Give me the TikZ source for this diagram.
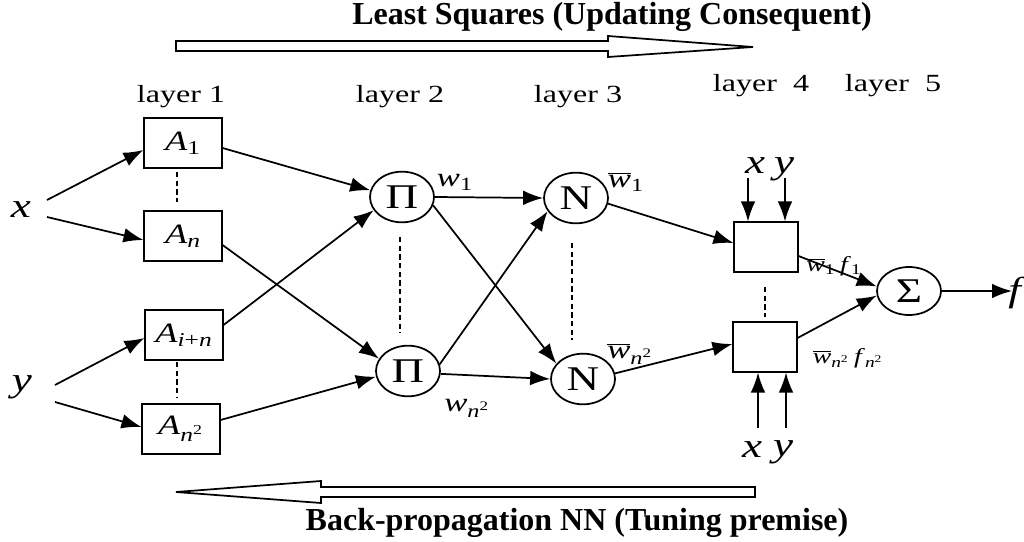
\documentclass[tikz,border=0pt]{standalone}
\usepackage{fontspec}
\usepackage{graphicx}
\setmainfont{Liberation Serif}
\usetikzlibrary{shapes.geometric,arrows.meta}
\newcommand\hs[1]{\scalebox{1.3}[1]{#1}}
\newcommand\ob{$\overline{\hbox{\textit{w}}}$}
\begin{document}
\begin{tikzpicture}[x=0.75pt,y=-0.75pt,
  ln/.style={line width=1.3pt},
  arr/.style={ln,-{Latex[length=15pt,width=11pt]}},
  dsh/.style={line width=1.3pt,dash pattern=on 4pt off 2.5pt},
  box/.style={draw,line width=1.3pt,rectangle,minimum width=58pt,minimum height=37.5pt,inner sep=0pt,font=\fontsize{21}{23}\selectfont},
  box4/.style={draw,line width=1.3pt,rectangle,minimum width=47.5pt,minimum height=37pt,inner sep=0pt},
  ell/.style={draw,line width=1.3pt,ellipse,minimum width=48pt,minimum height=38pt,inner sep=0pt,font=\fontsize{26}{28}\selectfont},
  lay/.style={font=\fontsize{18.5}{20}\selectfont,inner sep=0pt},
  ttl/.style={font=\fontsize{24}{26}\selectfont\bfseries,inner sep=0pt},
  var/.style={font=\fontsize{26}{28}\selectfont\itshape,inner sep=0pt},
  wl/.style={font=\fontsize{20}{22}\selectfont,inner sep=0pt},
  fl/.style={font=\fontsize{16}{18}\selectfont,inner sep=0pt}]
\useasboundingbox (0,0) rectangle (1024,542);
\fill[white] (0,0) rectangle (1024,542);

% titles and hollow arrows
\node[ttl] (top) at (612,17) {Least Squares (Updating Consequent)};
\draw[ln,fill=white] (176,41) -- (608,41) -- (608,36) -- (753,47) -- (608,57) -- (608,51) -- (176,51) -- cycle;
\node[ttl] (bot) at (577,523) {Back-propagation NN (Tuning premise)};
\draw[ln,fill=white] (755,487) -- (321,487) -- (321,481) -- (176,492) -- (321,503) -- (321,497) -- (755,497) -- cycle;

% layer labels
\node[lay] (l1) at (181,97) {\hs{layer 1}};
\node[lay] (l2) at (400,97) {\hs{layer 2}};
\node[lay] (l3) at (578,97) {\hs{layer 3}};
\node[lay] (l4) at (761,86) {\hs{layer\ \ 4}};
\node[lay] (l5) at (893,86) {\hs{layer\ \ 5}};

% inputs
\node[var] (x) at (21,210) {\hs{x}};
\node[var] (y) at (22,387) {\hs{y}};

% layer 1
\node[box] (A1) at (183,143) {\hs{\textit{A}\textsubscript{1}}};
\node[box] (An) at (183,236) {\hs{\textit{A\textsubscript{n}}}};
\node[box] (Ain) at (184,335) {\hs{\textit{A}\textsubscript{\textit{i}+\textit{n}}}};
\node[box] (An2) at (181,429) {\hs{\textit{A}\textsubscript{\textit{n}\textsuperscript{2}}}};

% layer 2
\node[ell] (P1) at (402,197) {\hs{Π}};
\node[ell] (P2) at (408,371) {\hs{Π}};
% layer 3
\node[ell] (N1) at (576,198) {\hs{N}};
\node[ell] (N2) at (583,379) {\hs{N}};
% layer 4
\node[box4] (B1) at (766,247) {};
\node[box4] (B2) at (765,347) {};
% layer 5
\node[ell,minimum width=48pt,minimum height=36pt] (S) at (909,291) {\hs{Σ}};
\coordinate (fend) at (1012,291);
\node[var,anchor=west] (f) at (1008,293) {\hs{f}};

% dashed separators
\coordinate (da1) at (177,172); \coordinate (da2) at (177,202);
\draw[dsh] (da1) -- (da2);
\coordinate (db1) at (177,362); \coordinate (db2) at (177,397);
\draw[dsh] (db1) -- (db2);
\coordinate (dc1) at (400,237); \coordinate (dc2) at (400,333);
\draw[dsh] (dc1) -- (dc2);
\coordinate (dd1) at (572,243); \coordinate (dd2) at (572,340);
\draw[dsh] (dd1) -- (dd2);
\coordinate (de1) at (765,287); \coordinate (de2) at (765,317);
\draw[dsh] (de1) -- (de2);

% arrows from inputs
\coordinate (xs1) at (47,200); \coordinate (xs2) at (47,217);
\coordinate (ys1) at (55,385); \coordinate (ys2) at (55,402);
\draw[arr] (xs1) -- (A1.west |- 0,150);
\draw[arr] (xs2) -- (An.west |- 0,240);
\draw[arr] (ys1) -- (Ain.west |- 0,338);
\draw[arr] (ys2) -- (An2.west |- 0,427);

% layer1 -> layer2
\draw[arr] (A1.east |- 0,148) -- (P1.168);
\draw[arr] (Ain.east |- 0,325) -- (P1.205);
\draw[arr] (An.east |- 0,245) -- (P2.157);
\draw[arr] (An2.east |- 0,420) -- (P2.190);

% layer2 -> layer3
\draw[arr] (P1.east) -- (N1.west);
\draw[arr] (P1.-15) -- (N2.150);
\draw[arr] (P2.12) -- (N1.205);
\draw[arr] (P2.-5) -- (N2.180);
\node[wl] (w1) at (455,182) {\hs{\textit{w}\textsubscript{1}}};
\node[wl] (wn) at (467,408) {\hs{\textit{w}\textsubscript{\textit{n}\textsuperscript{2}}}};

% layer3 -> layer4
\draw[arr] (N1.-10) -- (B1.west |- 0,243);
\draw[arr] (N2.10) -- (B2.west |- 0,344);
\node[wl] (bw1) at (626,182) {\hs{\ob\textsubscript{1}}};
\node[wl] (bwn) at (630,354) {\hs{\ob\textsubscript{\textit{n}\textsuperscript{2}}}};

% x y inputs to layer 4
\coordinate (t1) at (748,178); \coordinate (t2) at (785,178);
\draw[arr] (t1) -- (B1.north -| t1);
\draw[arr] (t2) -- (B1.north -| t2);
\node[var] (tx) at (755,166) {\hs{x}};
\node[var] (ty) at (784,169) {\hs{y}};
\coordinate (u1) at (758,428); \coordinate (u2) at (786,428);
\draw[arr] (u1) -- (B2.south -| u1);
\draw[arr] (u2) -- (B2.south -| u2);
\node[var] (bx) at (752,450) {\hs{x}};
\node[var] (by) at (783,452) {\hs{y}};

% layer4 -> layer5
\draw[arr] (B1.east |- 0,256) -- (S.172);
\draw[arr] (B2.east |- 0,338) -- (S.188);
\node[fl] (f1) at (834,266) {\hs{\ob\textsubscript{1}\,\textit{f}\textsubscript{1}}};
\node[fl] (fn) at (848,358) {\hs{\ob\textsubscript{\textit{n}\textsuperscript{2}}\,\textit{f}\textsubscript{\textit{n}\textsuperscript{2}}}};
\draw[arr] (S.east) -- (fend);
\end{tikzpicture}
\end{document}
